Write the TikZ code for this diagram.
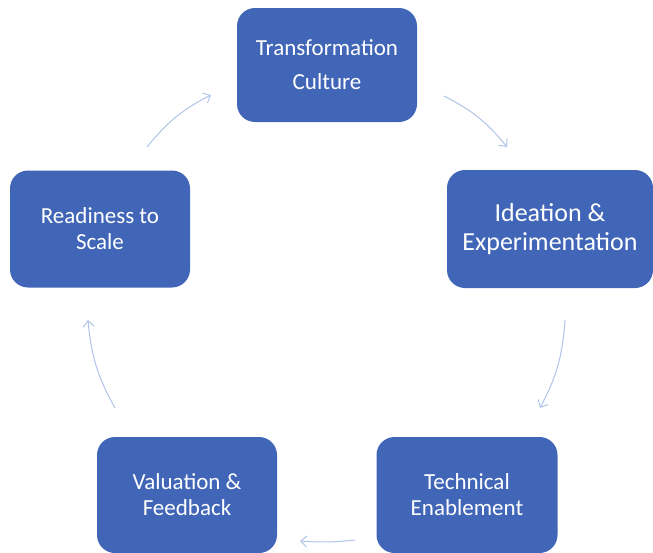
\documentclass[tikz,border=0pt]{standalone}
\usepackage{fontspec}
\setmainfont{Carlito}
\usepackage{xcolor}
\usetikzlibrary{arrows.meta}
\definecolor{boxblue}{RGB}{65,102,183}
\definecolor{arrowblue}{RGB}{176,196,232}

\begin{document}
\begin{tikzpicture}[
    x=1pt, y=-1pt,
    stage/.style={rectangle, rounded corners=18pt, fill=boxblue, text=white, align=center,
        minimum width=180pt, minimum height=116pt, font=\fontsize{23}{26}\selectfont},
    arrow/.style={-{Straight Barb[length=6pt,width=11pt]}, draw=arrowblue, line width=1pt}
]
    \useasboundingbox (0,0) rectangle (653,552);

    \node[stage, minimum height=114pt, font=\fontsize{23}{34}\selectfont] (culture) at (327,65) {Transformation\\Culture};
    \node[stage, minimum width=206pt, minimum height=118pt, font=\fontsize{26}{29}\selectfont] (ideation) at (550,229) {Ideation \&\\Experimentation};
    \node[stage, minimum width=181pt] (enable) at (467,495) {Technical\\Enablement};
    \node[stage] (valuation) at (187,495) {Valuation \&\\Feedback};
    \node[stage, minimum height=117pt] (readiness) at (100,229) {Readiness to\\Scale};

    \coordinate (a1) at (147,147);
    \coordinate (b1) at (211,95);
    \coordinate (a2) at (444,96);
    \coordinate (b2) at (507,147);
    \coordinate (a3) at (565,320);
    \coordinate (b3) at (540,408);
    \coordinate (a4) at (355,540);
    \coordinate (b4) at (300,541);
    \coordinate (a5) at (115,408);
    \coordinate (b5) at (88,320);

    \draw[arrow] (a1) to[bend left=12] (b1);
    \draw[arrow] (a2) to[bend left=12] (b2);
    \draw[arrow] (a3) to[bend left=12] (b3);
    \draw[arrow] (a4) to[bend left=5] (b4);
    \draw[arrow] (a5) to[bend left=12] (b5);
\end{tikzpicture}
\end{document}
